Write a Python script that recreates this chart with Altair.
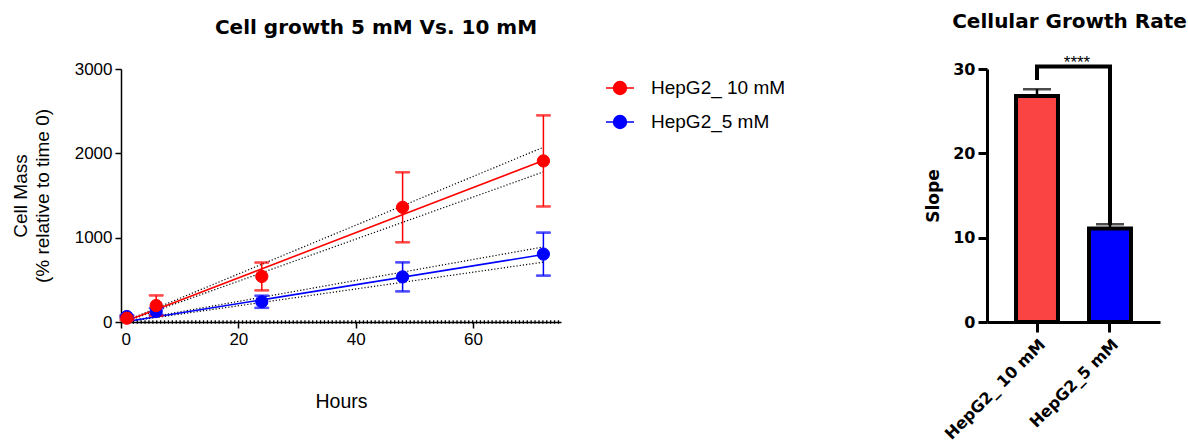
import altair as alt
import pandas as pd

# ---------------- data ----------------
series = ["HepG2_ 10 mM", "HepG2_5 mM"]
series_colors = ["#FF0000", "#0000FF"]

hours = [1, 6, 24, 48, 72]
mass_10 = [45, 195, 540, 1360, 1910]
sd_10 = [20, 120, 165, 415, 540]
mass_5 = [65, 125, 240, 535, 805]
sd_5 = [15, 40, 72, 172, 255]

fit_hours = [1, 72]
fit_10 = [15, 1915]
fit_5 = [5, 800]
ci_10_upper = [20, 2072]
ci_10_lower = [10, 1780]
ci_5_upper = [8, 890]
ci_5_lower = [3, 710]

baseline_hours = [0, 75]

groups = ["HepG2_ 10 mM", "HepG2_5 mM"]
slopes = [26.8, 11.1]
slope_err = [0.8, 0.5]
bar_colors = ["#FA4343", "#0000FF"]

bracket_group = [groups[0], groups[0], groups[1], groups[1]]
bracket_y = [28.7, 30.3, 30.3, 11.5]
sig_label = ["****"]
sig_y = [30.3]

# ---------------- tables ----------------
rows = []
for s, m, sd in [(series[1], mass_5, sd_5), (series[0], mass_10, sd_10)]:
    for h, v, e in zip(hours, m, sd):
        rows.append({"series": s, "hour": h, "mass": v, "lo": v - e, "hi": v + e})
pts = pd.DataFrame(rows)

fit_rows = []
for s, f in [(series[1], fit_5), (series[0], fit_10)]:
    for h, v in zip(fit_hours, f):
        fit_rows.append({"series": s, "hour": h, "mass": v})
fits = pd.DataFrame(fit_rows)

ci_rows = []
for name, f in [("u10", ci_10_upper), ("l10", ci_10_lower), ("u5", ci_5_upper), ("l5", ci_5_lower)]:
    for h, v in zip(fit_hours, f):
        ci_rows.append({"band": name, "hour": h, "mass": v})
cis = pd.DataFrame(ci_rows)

base = pd.DataFrame({"x": [baseline_hours[0]], "x2": [baseline_hours[1]], "y": [0]})

bars = pd.DataFrame({"group": groups, "slope": slopes, "top": [a + b for a, b in zip(slopes, slope_err)]})
bracket = pd.DataFrame({"group": bracket_group, "y": bracket_y, "step": list(range(4))})
sig = pd.DataFrame({"group": [groups[0]], "y": sig_y, "label": sig_label})

REG = "Liberation Sans"
BOLD = "DejaVu Sans"

leg = alt.Legend(
    title=None, orient="none", legendX=484, legendY=4,
    symbolType="M-1,0L1,0M0.46,0A0.46,0.46,0,1,1,-0.46,0A0.46,0.46,0,1,1,0.46,0Z",
    symbolSize=784, symbolStrokeWidth=1.5, symbolOpacity=1, labelFont=REG, labelFontSize=19,
    labelColor="black", labelOffset=16, rowPadding=9, padding=0,
)
stroke_enc = alt.Stroke("series:N", scale=alt.Scale(domain=series, range=series_colors), legend=leg)
fill_enc = alt.Fill("series:N", scale=alt.Scale(domain=series, range=series_colors), legend=leg)

xs = alt.Scale(domain=[0, 75], nice=False)
ys = alt.Scale(domain=[0, 3000], nice=False)
x_axis = alt.Axis(values=[0, 20, 40, 60], title="Hours", grid=False, tickSize=6, tickWidth=1.5,
                  domainWidth=1.5, domainColor="black", tickColor="black", labelFont=REG,
                  labelFontSize=17, labelColor="black", labelPadding=3, titleFont=REG,
                  titleFontSize=19.5, titleFontWeight="normal", titleColor="black", titlePadding=45)
y_axis = alt.Axis(values=[0, 1000, 2000, 3000], format="d", title=["Cell Mass", "(% relative to time 0)"],
                  grid=False, tickSize=6, tickWidth=1.5, domainWidth=1.5, domainColor="black",
                  tickColor="black", labelFont=REG, labelFontSize=17, labelColor="black", labelPadding=3,
                  titleFont=REG, titleFontSize=19, titleFontWeight="normal", titleColor="black",
                  titlePadding=22, titleLineHeight=22)

baseline = alt.Chart(base).mark_rule(color="black", strokeWidth=3.5, strokeDash=[1.3, 2.6]).encode(
    x=alt.X("x:Q", scale=xs, axis=x_axis), x2="x2:Q", y=alt.Y("y:Q", scale=ys, axis=y_axis)
)
ci_lines = alt.Chart(cis).mark_line(color="black", strokeWidth=1.2, strokeDash=[1.2, 2]).encode(
    x=alt.X("hour:Q", scale=xs, axis=x_axis), y=alt.Y("mass:Q", scale=ys, axis=y_axis), detail="band:N"
)
fit_lines = alt.Chart(fits).mark_line(strokeWidth=1.6).encode(
    x=alt.X("hour:Q", scale=xs, axis=x_axis), y=alt.Y("mass:Q", scale=ys, axis=y_axis), stroke=stroke_enc
)
err_rule = alt.Chart(pts).mark_rule(strokeWidth=1.5).encode(
    x=alt.X("hour:Q", scale=xs, axis=x_axis), y=alt.Y("lo:Q", scale=ys, axis=y_axis), y2="hi:Q",
    stroke=stroke_enc
)
err_hi = alt.Chart(pts).mark_tick(orient="horizontal", size=14, thickness=1.5).encode(
    x=alt.X("hour:Q", scale=xs, axis=x_axis), y=alt.Y("hi:Q", scale=ys, axis=y_axis), stroke=stroke_enc,
    fill=fill_enc
)
err_lo = alt.Chart(pts).mark_tick(orient="horizontal", size=14, thickness=1.5).encode(
    x=alt.X("hour:Q", scale=xs, axis=x_axis), y=alt.Y("lo:Q", scale=ys, axis=y_axis), stroke=stroke_enc,
    fill=fill_enc
)
points = alt.Chart(pts).mark_point(filled=True, size=150, opacity=1, strokeWidth=1).encode(
    x=alt.X("hour:Q", scale=xs, axis=x_axis), y=alt.Y("mass:Q", scale=ys, axis=y_axis),
    fill=fill_enc, stroke=stroke_enc
)

left = alt.layer(baseline, ci_lines, fit_lines, err_rule, err_hi, err_lo, points).properties(
    width=440, height=253,
    title=alt.TitleParams("Cell growth 5 mM Vs. 10 mM", font=BOLD, fontSize=20, fontWeight="bold",
                          color="black", dx=35, offset=22),
)

# ---------------- right chart ----------------
bx = alt.Scale(domain=groups, paddingInner=0.425, paddingOuter=0.3975)
by = alt.Scale(domain=[0, 30], nice=False)
bx_axis = alt.Axis(title=None, labelAngle=315, labelAlign="right", labelBaseline="top", labelFont=BOLD,
                   labelFontSize=16, labelFontWeight="bold", labelColor="black", tickSize=10, tickWidth=3,
                   domainWidth=3, domainColor="black", tickColor="black", labelPadding=4)
by_axis = alt.Axis(values=[0, 10, 20, 30], title="Slope", grid=False, titleFont=BOLD, titleFontSize=17,
                   titleFontWeight="bold", titleColor="black", labelFont=BOLD, labelFontSize=16,
                   labelFontWeight="bold", labelColor="black", tickSize=9, tickWidth=3, domainWidth=3,
                   domainColor="black", tickColor="black", labelPadding=3, titlePadding=10)

bar = alt.Chart(bars).mark_bar(stroke="black", strokeWidth=4).encode(
    x=alt.X("group:N", scale=bx, axis=bx_axis, sort=groups),
    y=alt.Y("slope:Q", scale=by, axis=by_axis),
    color=alt.Color("group:N", scale=alt.Scale(domain=groups, range=bar_colors), legend=None),
)
bar_err = alt.Chart(bars).mark_rule(color="black", strokeWidth=2.5).encode(
    x=alt.X("group:N", scale=bx, axis=bx_axis, sort=groups),
    y=alt.Y("slope:Q", scale=by, axis=by_axis), y2="top:Q",
)
bar_cap = alt.Chart(bars).mark_tick(color="black", orient="horizontal", size=28, thickness=2.5).encode(
    x=alt.X("group:N", scale=bx, axis=bx_axis, sort=groups),
    y=alt.Y("top:Q", scale=by, axis=by_axis),
)
br = alt.Chart(bracket).mark_line(color="black", strokeWidth=4, strokeJoin="miter").encode(
    x=alt.X("group:N", scale=bx, axis=bx_axis, sort=groups),
    y=alt.Y("y:Q", scale=by, axis=by_axis), order="step:Q",
)
stars = alt.Chart(sig).mark_text(font=REG, fontSize=17, color="black", dx=40, dy=6, baseline="bottom").encode(
    x=alt.X("group:N", scale=bx, axis=bx_axis, sort=groups),
    y=alt.Y("y:Q", scale=by, axis=by_axis), text="label:N",
)

right = alt.layer(bar, bar_err, bar_cap, br, stars).properties(
    width=173, height=253,
    title=alt.TitleParams("Cellular Growth Rate", font=BOLD, fontSize=20, fontWeight="bold",
                          color="black", dx=-4, offset=22),
)

chart = alt.hconcat(left, right, spacing=361).resolve_scale(x="independent", y="independent").properties(
    padding={"left": 11, "top": 12, "right": 0, "bottom": 0}
).configure(background="white").configure_view(strokeWidth=0, stroke="transparent")

chart.save("out.html", embed_options={"renderer": "svg", "actions": False})
